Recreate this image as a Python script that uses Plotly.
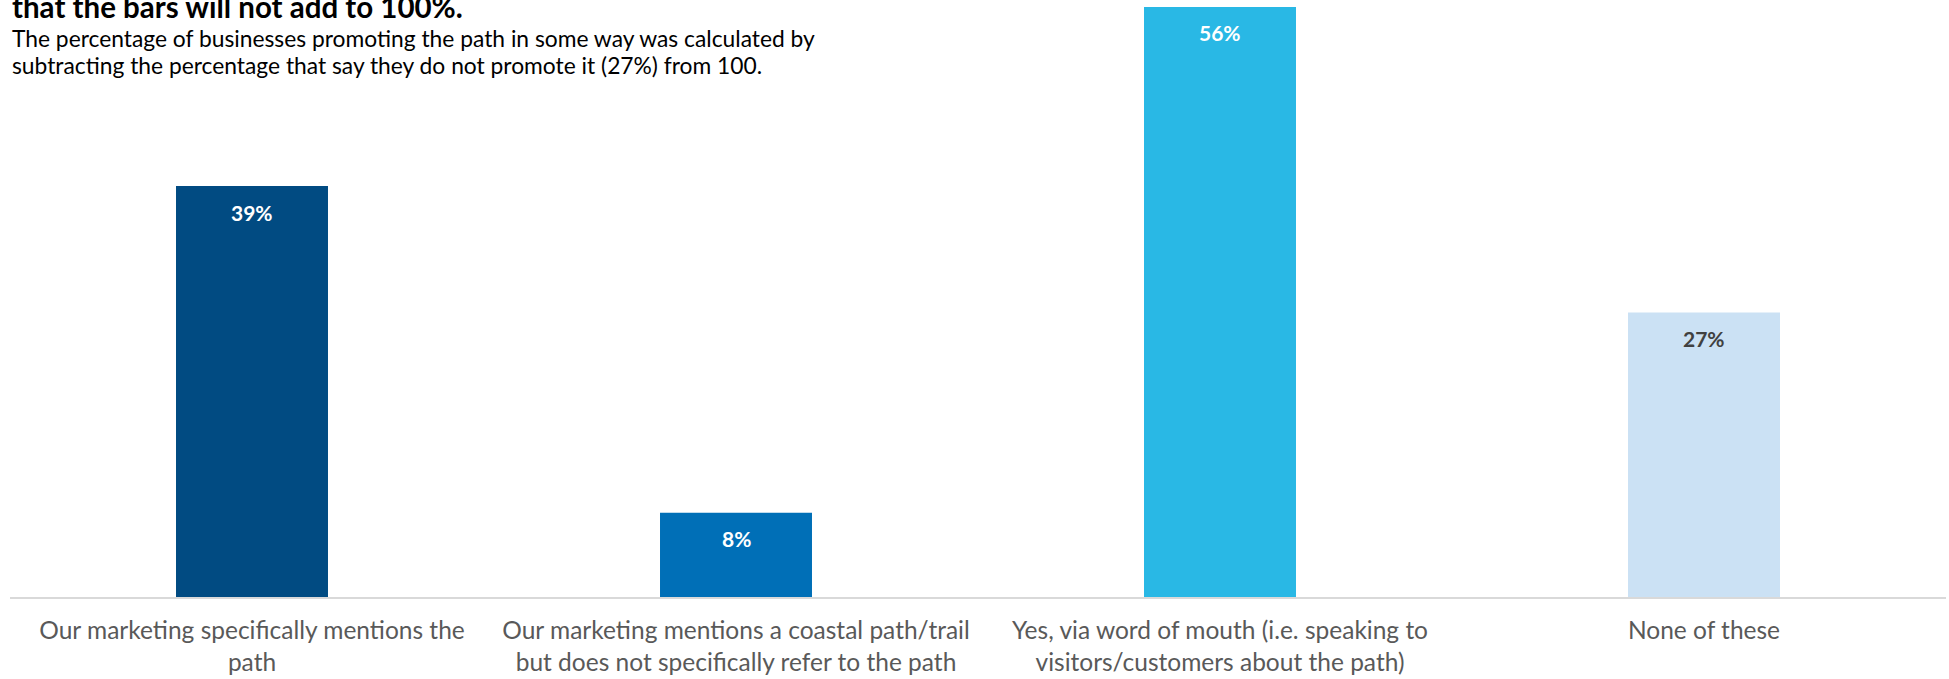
import plotly.graph_objects as go

categories = [
    "Our marketing specifically mentions the<br>path",
    "Our marketing mentions a coastal path/trail<br>but does not specifically refer to the path",
    "Yes, via word of mouth (i.e. speaking to<br>visitors/customers about the path)",
    "None of these",
]
values = [39, 8, 56, 27]
labels = ["39%", "8%", "56%", "27%"]
bar_colors = ["#014B82", "#006FB7", "#29B8E5", "#CBE1F4"]
label_colors = ["#FFFFFF", "#FFFFFF", "#FFFFFF", "#404040"]

title_bold = "that the bars will not add to 100%."
subtitle_lines = [
    "The percentage of businesses promoting the path in some way was calculated by",
    "subtracting the percentage that say they do not promote it (27%) from 100.",
]

FONT = "Lato"

fig = go.Figure()
fig.add_trace(go.Bar(
    x=list(range(len(categories))),
    y=values,
    marker=dict(color=bar_colors, line=dict(width=0)),
    width=0.314,
    hoverinfo="skip",
))

for i, (v, lab, c) in enumerate(zip(values, labels, label_colors)):
    fig.add_annotation(
        x=i, y=v, xref="x", yref="y", text=f"<b>{lab}</b>",
        showarrow=False, yanchor="middle", yshift=-26,
        font=dict(family=FONT, size=21, color=c),
    )

fig.add_annotation(
    x=0, y=1, xref="paper", yref="paper", xanchor="left", yanchor="bottom",
    xshift=0, yshift=-26, text=f"<b>{title_bold}</b>", showarrow=False,
    font=dict(family=FONT, size=29.5, color="#000000"),
)
for j, line in enumerate(subtitle_lines):
    fig.add_annotation(
        x=0, y=1, xref="paper", yref="paper", xanchor="left", yanchor="middle",
        xshift=0, yshift=-38 - 27 * j, text=line, showarrow=False,
        font=dict(family=FONT, size=22.8, color="#000000"),
    )

fig.update_layout(
    width=1949, height=679,
    margin=dict(l=10, r=3, t=0, b=82),
    plot_bgcolor="#FFFFFF", paper_bgcolor="#FFFFFF",
    showlegend=False,
    bargap=0.686,
)
fig.update_xaxes(
    tickmode="array", tickvals=list(range(len(categories))), ticktext=categories,
    range=[-0.5, len(categories) - 0.5],
    showline=True, linecolor="#D9D9D9", linewidth=2,
    showgrid=False, zeroline=False, ticks="",
    tickfont=dict(family=FONT, size=24.5, color="#595959"),
    ticklabelstandoff=11,
)
fig.update_yaxes(
    range=[0, 56.66], visible=False, showgrid=False, zeroline=False,
)

fig.write_html("out.html", config={"displayModeBar": False})
